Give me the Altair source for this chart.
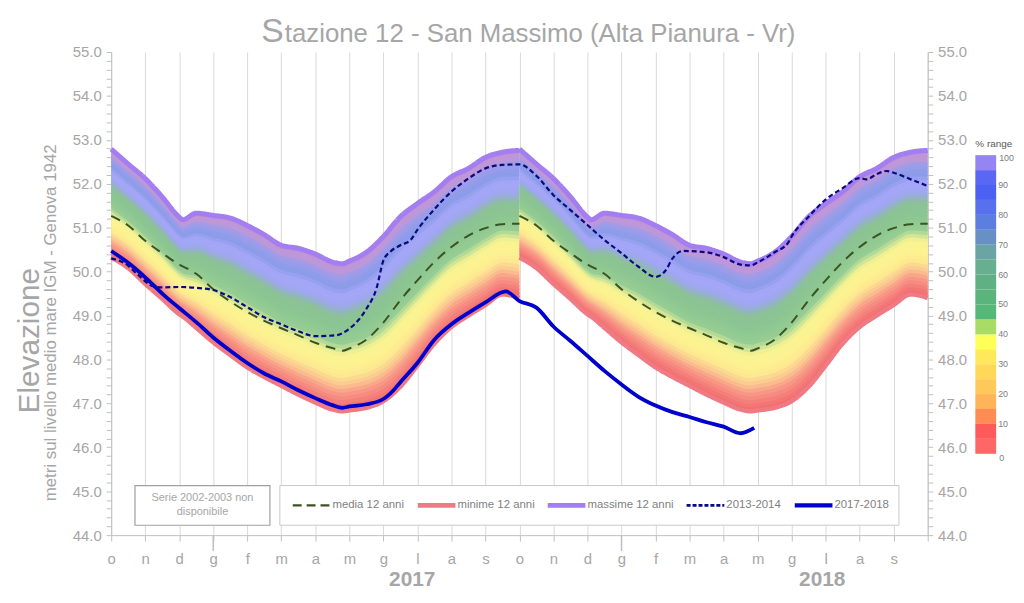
import altair as alt
import pandas as pd

# ---------------- data ----------------
# climatology (12 years) for one hydrological year, t in months from 1 October
clim_t = [0, 0.5, 1, 1.5, 2, 2.1, 2.5, 3, 3.5, 4, 4.5, 5, 5.5, 6, 6.5, 6.8, 7, 7.5,
          8, 8.5, 9, 9.5, 10, 10.5, 11, 11.5, 12]
clim_max = [52.79, 52.45, 52.12, 51.70, 51.24, 51.18, 51.33, 51.28, 51.22, 51.05, 50.84,
            50.60, 50.53, 50.40, 50.22, 50.18, 50.24, 50.44, 50.80, 51.25, 51.55, 51.82,
            52.16, 52.35, 52.60, 52.72, 52.76]
clim_min = [50.32, 50.08, 49.72, 49.38, 49.03, 48.98, 48.72, 48.39, 48.10, 47.82, 47.60,
            47.40, 47.20, 47.02, 46.86, 46.82, 46.84, 46.90, 47.05, 47.38, 47.86, 48.36,
            48.74, 49.00, 49.24, 49.48, 49.40]
clim_mean = [51.27, 51.05, 50.70, 50.42, 50.16, 50.12, 49.95, 49.60, 49.32, 49.08, 48.88,
             48.71, 48.55, 48.38, 48.26, 48.20, 48.25, 48.45, 48.84, 49.35, 49.80, 50.22,
             50.56, 50.82, 50.99, 51.08, 51.09]
year_offsets = [0, 12]

# 2013-2014 series
s1314_t = [0, 0.4, 0.8, 1.25, 1.5, 2, 2.5, 3, 3.5, 4, 4.5, 5, 5.5, 6, 6.6, 7, 7.5, 7.8,
           8, 8.2, 8.5, 8.8, 9, 9.5, 10, 10.5, 11, 11.5, 12, 12.5, 13, 13.5, 14, 14.5,
           15, 15.5, 16, 16.3, 16.5, 16.8, 17.5, 18, 18.5, 18.8, 19, 19.5, 19.9, 20,
           20.5, 21, 21.5, 22, 22.2, 22.5, 22.8, 23, 23.5, 24]
s1314_v = [50.30, 50.19, 49.92, 49.66, 49.64, 49.65, 49.63, 49.58, 49.42, 49.19, 48.96,
           48.80, 48.64, 48.53, 48.55, 48.70, 49.15, 49.62, 50.25, 50.45, 50.60, 50.72,
           50.95, 51.42, 51.82, 52.12, 52.35, 52.43, 52.44, 52.18, 51.74, 51.40, 51.06,
           50.72, 50.42, 50.11, 49.88, 50.03, 50.30, 50.47, 50.44, 50.33, 50.16, 50.14,
           50.21, 50.44, 50.66, 50.80, 51.25, 51.64, 51.90, 52.13, 52.10, 52.22, 52.29,
           52.25, 52.10, 51.95]

# 2017-2018 series
s1718_t = [0, 0.5, 1, 1.5, 2, 2.5, 3, 3.5, 4, 4.5, 5, 5.5, 6, 6.5, 6.8, 7, 7.5, 8, 8.3,
           8.5, 9, 9.5, 10, 10.5, 11, 11.6, 12, 12.5, 13, 13.5, 14, 14.5, 15, 15.5, 16,
           16.5, 17, 17.5, 18, 18.5, 18.9]
s1718_v = [50.47, 50.20, 49.87, 49.50, 49.17, 48.85, 48.50, 48.20, 47.92, 47.68, 47.50,
           47.30, 47.12, 46.96, 46.90, 46.93, 46.98, 47.10, 47.30, 47.48, 47.92, 48.45,
           48.80, 49.06, 49.30, 49.55, 49.33, 49.18, 48.75, 48.42, 48.08, 47.74, 47.43,
           47.15, 46.95, 46.80, 46.69, 46.57, 46.47, 46.32, 46.44]

month_labels = ["o", "n", "d", "g", "f", "m", "a", "m", "g", "l", "a", "s"] * 2
year_tick_t = [3, 15]
year_label_t = [8.85, 20.9]
year_labels = ["2017", "2018"]

legend_names = ["media 12 anni", "minime 12 anni", "massime 12 anni", "2013-2014", "2017-2018"]
range_pct = [2.5 + 5 * i for i in range(20)]
range_end_labels = ["0", "100"]

# ---------------- styles ----------------
GRAY = "#a6a6a6"
AXC = "#bfbfbf"
W, H = 823, 487
band_stops = [0.00, 0.05, 0.12, 0.18, 0.24, 0.30, 0.38, 0.42, 0.46, 0.55, 0.64, 0.68,
              0.72, 0.78, 0.84, 0.90, 0.95, 1.00]
band_colors = ["#f06a6a", "#f47a78", "#f89a88", "#fbc890", "#fde890", "#fdf290",
               "#f8f392", "#c8e296", "#96cd94", "#8cc690", "#8cc296", "#94b2c8",
               "#a0a6f2", "#a6a6f8", "#8a9ce8", "#9a9cec", "#c498d4", "#b88ee0"]
legend_block_colors = ["#ff6666", "#ff5a5a", "#ff8c55", "#ffb45a", "#ffc85a", "#ffd85a",
                       "#ffe85a", "#ffff5a", "#a8dc64", "#55b878", "#5ab47c", "#60b084",
                       "#68ae90", "#6aa4a4", "#6890c4", "#5c7ee0", "#5870ee", "#4c60f2",
                       "#5a66f4", "#9484f4"]
line_colors = ["#3b5323", "#f07a84", "#a27ef0", "#0a0a80", "#0000cc"]
line_widths = [2, 4.5, 5, 2.2, 3.8]
line_dashes = [[10, 7], [1, 0], [1, 0], [5, 3], [1, 0]]
leg_sym_x = [183, 309, 440, 580, 689]
FONT = "Liberation Sans"

# ---------------- tables ----------------
N = 40
rows = []
for yr, off in enumerate(year_offsets):
    for t, mn, mx in zip(clim_t, clim_min, clim_max):
        for k in range(N):
            rows.append({"t": t + off,
                         "lo": mn + (mx - mn) * k / N,
                         "hi": mn + (mx - mn) * min(k + 1.6, N) / N,
                         "f": (k + 0.5) / N,
                         "key": f"{yr}-{k:02d}"})
band_df = pd.DataFrame(rows)

clim_rows = []
for yr, off in enumerate(year_offsets):
    for t, mn, mx, me in zip(clim_t, clim_min, clim_max, clim_mean):
        clim_rows.append({"t": t + off, "mn": mn, "mx": mx, "me": me, "yr": yr})
clim_df = pd.DataFrame(clim_rows)
d1314 = pd.DataFrame({"t": s1314_t, "v": s1314_v})
d1718 = pd.DataFrame({"t": s1718_t, "v": s1718_v})
one = pd.DataFrame({"d": [0]})

xs = alt.Scale(domain=[0, 24], nice=False, zero=False)
ys = alt.Scale(domain=[44, 55], nice=False, zero=False)
label_arr = "[" + ",".join(f"'{m}'" for m in month_labels) + "]"
xaxis = alt.Axis(values=list(range(25)), labelExpr=label_arr + "[round(datum.value)] || ''",
                 grid=True, gridColor="#d9d9d9", gridWidth=1, domainColor=AXC,
                 tickColor=AXC, tickSize=6, labelColor=GRAY, labelFontSize=15,
                 labelFont=FONT, labelPadding=11, title=None, labelFlush=False,
                 labelOverlap=False)
yvals = [round(44 + 0.2 * i, 1) for i in range(56)]
ylab = "abs(datum.value - round(datum.value)) < 0.01 ? format(datum.value, '.1f') : ''"


def yaxis(orient):
    return alt.Axis(orient=orient, values=yvals, labelExpr=ylab, grid=False,
                    domainColor=AXC, tickColor=AXC, tickSize=5, labelColor=GRAY,
                    labelFontSize=15, labelFont=FONT, labelPadding=5, title=None,
                    labelFlush=False, labelOverlap=False)


YL = yaxis("left")
X = alt.X("t:Q", scale=xs, axis=xaxis)


def Y(field):
    return alt.Y(field, scale=ys, axis=YL, stack=None)


band = alt.Chart(band_df).mark_area(interpolate="monotone").encode(
    x=X, y=Y("lo:Q"), y2="hi:Q",
    color=alt.Color("f:Q", scale=alt.Scale(domain=band_stops, range=band_colors,
                                           interpolate="rgb"), legend=None),
    detail="key:N",
)


def clim_line(field, i):
    return alt.Chart(clim_df).mark_line(
        interpolate="monotone", color=line_colors[i], strokeWidth=line_widths[i],
        strokeDash=line_dashes[i]).encode(x=X, y=Y(f"{field}:Q"), detail="yr:N")


min_line = clim_line("mn", 1)
max_line = clim_line("mx", 2)
mean_line = clim_line("me", 0)
l1314 = alt.Chart(d1314).mark_line(interpolate="monotone", color=line_colors[3],
                                   strokeWidth=line_widths[3], strokeDash=line_dashes[3]
                                   ).encode(x=X, y=Y("v:Q"))
l1718 = alt.Chart(d1718).mark_line(interpolate="monotone", color=line_colors[4],
                                   strokeWidth=line_widths[4]
                                   ).encode(x=X, y=Y("v:Q"))

year_ticks = alt.Chart(pd.DataFrame({"t": year_tick_t})).mark_rule(
    color=AXC, strokeWidth=1.5).encode(x=X, y=alt.value(H), y2=alt.value(H + 16))
year_text = alt.Chart(pd.DataFrame({"t": year_label_t, "lab": year_labels})).mark_text(
    font=FONT, fontSize=21, fontWeight="bold", color=GRAY, baseline="middle").encode(
    x=X, y=alt.value(H + 45), text="lab:N")


def txt(s, x, y, size, color=GRAY, font=FONT, align="center", baseline="middle",
        angle=0, weight="normal"):
    return alt.Chart(one).mark_text(text=s, fontSize=size, color=color, font=font,
                                    align=align, baseline=baseline, angle=angle,
                                    fontWeight=weight).encode(x=alt.value(x), y=alt.value(y))


deco = [
    txt("S", 174, -10, 34, align="right", baseline="alphabetic"),
    txt("tazione 12 - San Massimo (Alta Pianura - Vr)", 175, -10, 26, align="left",
        baseline="alphabetic"),
    txt("Elevazione", -82, 291, 30, angle=270),
    txt("metri sul livello medio mare IGM - Genova 1942", -61, 273, 17, angle=270),
]

# bottom boxes
serie_box = alt.Chart(one).mark_rect(fill="white", stroke="#a0a0a0", strokeWidth=1.2).encode(
    x=alt.value(24), x2=alt.value(160), y=alt.value(437), y2=alt.value(477))
leg_box = alt.Chart(one).mark_rect(fill="white", stroke="#c8c8c8", strokeWidth=1).encode(
    x=alt.value(170), x2=alt.value(794), y=alt.value(437), y2=alt.value(477))
deco += [serie_box, leg_box,
         txt("Serie 2002-2003  non", 92, 450, 11),
         txt("disponibile", 92, 464, 11)]
for i, name in enumerate(legend_names):
    x0 = leg_sym_x[i]
    deco.append(alt.Chart(one).mark_rule(
        color=line_colors[i], strokeWidth=min(line_widths[i] + 0.5, 5),
        strokeDash=[9, 5] if i == 0 else ([4, 2] if i == 3 else [1, 0])).encode(
        x=alt.value(x0), x2=alt.value(x0 + 38), y=alt.value(457)))
    deco.append(txt(name, x0 + 40, 457, 11.5, color="#7f7f7f", align="left"))

# legend end labels 0 / 100
deco.append(txt(range_end_labels[0], 895, 409, 9, color="#808080", align="left"))
deco.append(txt(range_end_labels[1], 895, 107, 9, color="#808080", align="left"))

range_legend = alt.Chart(pd.DataFrame({"p": range_pct})).mark_point(opacity=0).encode(
    x=alt.value(0), y=alt.value(0),
    fill=alt.Fill("p:Q", scale=alt.Scale(type="quantize", domain=[0, 100], nice=False,
                                         range=legend_block_colors),
                  legend=alt.Legend(title="% range", orient="none", legendX=871,
                                    legendY=88, direction="vertical", type="gradient",
                                    gradientLength=301, gradientThickness=21,
                                    titleFontSize=10, titleFont=FONT,
                                    titleFontWeight="normal", titleColor="#595959",
                                    labelFontSize=9, labelFont=FONT, labelColor="#808080",
                                    labelOverlap=False,
                                    labelExpr="round(datum.value) % 10 == 0 ? round(datum.value) : ''",
                                    gradientStrokeWidth=0, titlePadding=6)))

main = alt.layer(band, min_line, max_line, mean_line, l1314, l1718, year_ticks, year_text,
                 range_legend, *deco)

right = alt.Chart(pd.DataFrame({"v": [44, 55]})).mark_point(opacity=0).encode(
    x=alt.value(0), y=alt.Y("v:Q", scale=ys, axis=yaxis("right")))

chart = alt.layer(main, right).resolve_scale(y="independent").properties(
    width=W, height=H,
    autosize=alt.AutoSizeParams(type="none"),
    padding={"left": 104, "top": 42, "right": 89, "bottom": 58},
).configure_view(stroke=None).configure_axis(labelOverlap=False).configure_legend(
    gradientLength=301, gradientThickness=21)

chart.save("out.html", embed_options={"renderer": "svg", "actions": False})
